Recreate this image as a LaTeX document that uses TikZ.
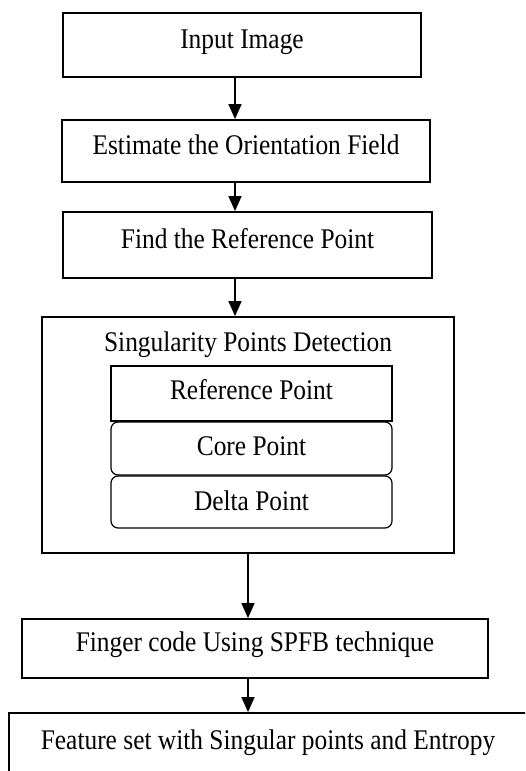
\documentclass[tikz,border=0pt]{standalone}
\usepackage{graphicx}
\usepackage{fontspec}
\setmainfont{Liberation Serif}
\usetikzlibrary{arrows.meta}
\newcommand{\tallt}[1]{\scalebox{1}[1.12]{#1}}
\begin{document}
\begin{tikzpicture}[x=1pt,y=-1pt,
  every node/.style={font=\fontsize{25.4}{30}\selectfont, inner sep=0pt, text height=0.7em, text depth=0.05em},
  box/.style={draw, line width=1.8pt, rectangle},
  sub/.style={draw, line width=1.2pt, rectangle, rounded corners=7pt},
  arr/.style={line width=1.5pt, -{Triangle[length=15pt,width=13pt]}}]
\useasboundingbox (0,0) rectangle (525,771);
\clip (0,0) rectangle (525,771);
\fill[white] (0,0) rectangle (525,771);
\coordinate (ax) at (235,0);
\coordinate (bx) at (248,0);
\node[box, minimum width=358pt, minimum height=64pt] (in) at (242,45) {\tallt{Input Image}};
\node[box, minimum width=368pt, minimum height=62pt] (est) at (246,151) {\tallt{Estimate the Orientation Field}};
\node[box, minimum width=369pt, minimum height=66pt] (find) at (247.5,245) {\tallt{Find the Reference Point}};
\node[box, minimum width=412pt, minimum height=236pt] (grp) at (248,435) {};
\node (title) at (248,348) {\tallt{Singularity Points Detection}};
\node[box, line width=2.2pt, minimum width=281pt, minimum height=55pt] (refp) at (251.5,393.5) {\raisebox{-3pt}{\tallt{Reference Point}}};
\node[sub, minimum width=281pt, minimum height=53pt] (core) at (251.5,448.5) {\raisebox{-4pt}{\tallt{Core Point}}};
\node[sub, minimum width=281pt, minimum height=52pt] (delta) at (251.5,502) {\raisebox{-5pt}{\tallt{Delta Point}}};
\node[box, minimum width=466pt, minimum height=59pt] (finger) at (255,648.5) {\tallt{Finger code Using SPFB technique}};
\node[box, minimum width=518pt, minimum height=67pt] (feat) at (268,746.5) {\tallt{Feature set with Singular points and Entropy}};
\draw[arr] (in.south -| ax) -- (est.north -| ax);
\draw[arr] (est.south -| ax) -- (find.north -| ax);
\draw[arr] (find.south -| ax) -- (grp.north -| ax);
\draw[arr] (grp.south -| bx) -- (finger.north -| bx);
\draw[arr] (finger.south -| bx) -- (feat.north -| bx);
\end{tikzpicture}
\end{document}
